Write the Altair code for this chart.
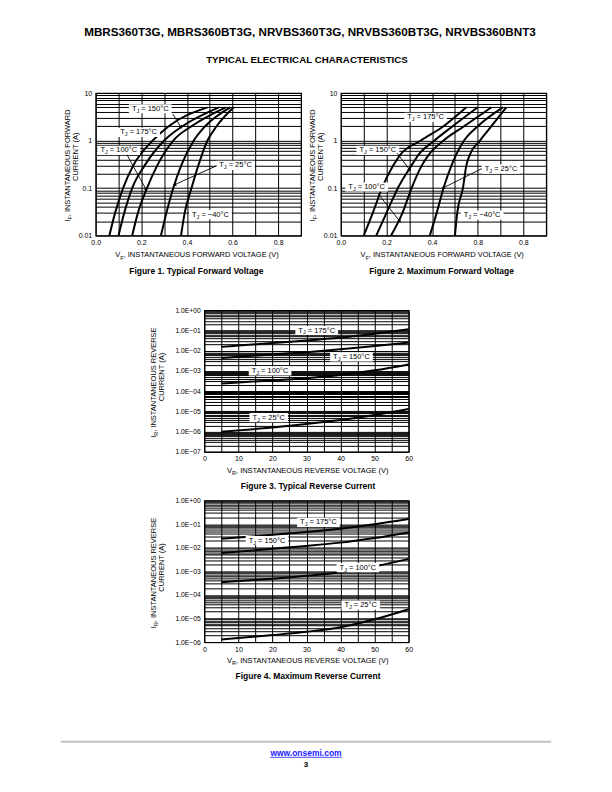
import math
import altair as alt
import pandas as pd

FONT = "Liberation Sans"

# ---------------- Figure 1 : typical forward voltage ----------------
fig1_current = [0.01, 0.03, 0.1, 0.3, 1.0, 2.0, 5.0]
fig1_vf_175 = [0.06, 0.085, 0.12, 0.165, 0.25, 0.32, 0.49]
fig1_vf_150 = [0.10, 0.125, 0.16, 0.215, 0.30, 0.38, 0.54]
fig1_vf_100 = [0.16, 0.185, 0.225, 0.27, 0.34, 0.42, 0.57]
fig1_vf_25 = [0.286, 0.31, 0.34, 0.375, 0.43, 0.48, 0.59]
fig1_vf_m40 = [0.374, 0.39, 0.42, 0.45, 0.49, 0.53, 0.605]
fig1_x_ticks = [0.0, 0.2, 0.4, 0.6, 0.8]
fig1_x_labels = ["0.0", "0.2", "0.4", "0.6", "0.8"]
fig1_y_ticks = [0.01, 0.1, 1, 10]
fig1_y_labels = ["0.01", "0.1", "1", "10"]
fig1_label_rest = ["= 150°C", "= 175°C", "= 100°C", "= 25°C", "= −40°C"]
fig1_label_v = [0.239, 0.188, 0.101, 0.613, 0.503]
fig1_label_i = [4.67, 1.49, 0.62, 0.30, 0.0275]
fig1_arrow_from_v = [0.338, 0.137, 0.53]
fig1_arrow_from_i = [3.63, 0.50, 0.295]
fig1_arrow_to_v = [0.374, 0.221, 0.345]
fig1_arrow_to_i = [1.9, 0.093, 0.117]

# ---------------- Figure 2 : maximum forward voltage ----------------
fig2_current = [0.01, 0.03, 0.1, 0.3, 0.5, 1.0, 2.0, 5.0]
fig2_vf_175 = [0.10, 0.14, 0.18, 0.23, 0.26, 0.35, 0.45, 0.55]
fig2_vf_150 = [0.155, 0.20, 0.25, 0.31, 0.34, 0.41, 0.49, 0.60]
fig2_vf_100 = [0.22, 0.27, 0.31, 0.355, 0.385, 0.45, 0.54, 0.66]
fig2_vf_25 = [0.39, 0.42, 0.45, 0.485, 0.505, 0.54, 0.60, 0.71]
fig2_vf_m40 = [0.50, 0.51, 0.535, 0.55, 0.565, 0.61, 0.66, 0.725]
fig2_x_ticks = [0.0, 0.2, 0.4, 0.6, 0.8]
fig2_x_labels = ["0.0", "0.2", "0.4", "0.8", "0.8"]
fig2_y_ticks = [0.01, 0.1, 1, 10]
fig2_y_labels = ["0.01", "0.1", "1", "10"]
fig2_label_rest = ["= 175°C", "= 150°C", "= 100°C", "= 25°C", "= −40°C"]
fig2_label_v = [0.371, 0.162, 0.113, 0.702, 0.619]
fig2_label_i = [3.06, 0.62, 0.105, 0.25, 0.027]
fig2_arrow_from_v = [0.247, 0.163, 0.618]
fig2_arrow_from_i = [0.54, 0.076, 0.256]
fig2_arrow_to_v = [0.302, 0.258, 0.447]
fig2_arrow_to_i = [0.24, 0.02, 0.1]

# ---------------- Figure 3 : typical reverse current ----------------
rev_voltage = [5, 10, 20, 30, 40, 50, 60]
fig3_ir_175 = [1.55e-2, 1.8e-2, 2.4e-2, 3.2e-2, 4.5e-2, 7.0e-2, 1.15e-1]
fig3_ir_150 = [4.4e-3, 5.0e-3, 6.5e-3, 8.5e-3, 1.17e-2, 1.7e-2, 2.5e-2]
fig3_ir_100 = [2.4e-4, 2.7e-4, 3.4e-4, 4.4e-4, 6.3e-4, 1.07e-3, 2.1e-3]
fig3_ir_25 = [9.8e-7, 1.15e-6, 1.6e-6, 2.35e-6, 3.7e-6, 6.6e-6, 1.3e-5]
fig3_y_ticks = [1e-7, 1e-6, 1e-5, 1e-4, 1e-3, 1e-2, 1e-1, 1]
fig3_y_labels = ["1.0E−07", "1.0E−06", "1.0E−05", "1.0E−04", "1.0E−03",
                 "1.0E−02", "1.0E−01", "1.0E+00"]
fig3_label_rest = ["= 175°C", "= 150°C", "= 100°C", "= 25°C"]
fig3_label_v = [33.0, 43.2, 19.3, 18.9]
fig3_label_i = [0.1, 5.0e-3, 1.0e-3, 4.9e-6]

# ---------------- Figure 4 : maximum reverse current ----------------
fig4_ir_175 = [2.4e-2, 2.75e-2, 3.55e-2, 4.7e-2, 6.5e-2, 1.0e-1, 1.66e-1]
fig4_ir_150 = [6.0e-3, 6.9e-3, 9.1e-3, 1.2e-2, 1.66e-2, 2.6e-2, 4.5e-2]
fig4_ir_100 = [3.5e-4, 3.9e-4, 4.9e-4, 6.5e-4, 9.3e-4, 1.62e-3, 3.4e-3]
fig4_ir_25 = [1.3e-6, 1.5e-6, 2.0e-6, 2.75e-6, 4.3e-6, 9.3e-6, 2.5e-5]
fig4_y_ticks = [1e-6, 1e-5, 1e-4, 1e-3, 1e-2, 1e-1, 1]
fig4_y_labels = ["1.0E−06", "1.0E−05", "1.0E−04", "1.0E−03",
                 "1.0E−02", "1.0E−01", "1.0E+00"]
fig4_label_rest = ["= 175°C", "= 150°C", "= 100°C", "= 25°C"]
fig4_label_v = [33.5, 18.4, 45.1, 45.9]
fig4_label_i = [0.12, 2.04e-2, 1.45e-3, 3.7e-5]

rev_x_ticks = [0, 10, 20, 30, 40, 50, 60]
rev_x_labels = ["0", "10", "20", "30", "40", "50", "60"]

HEADER = "MBRS360T3G, MBRS360BT3G, NRVBS360T3G, NRVBS360BT3G, NRVBS360BNT3"
SUBHEADER = "TYPICAL ELECTRICAL CHARACTERISTICS"

# ---------------- helpers ----------------
CW = {'A': .667, 'B': .667, 'C': .722, 'D': .722, 'E': .667, 'F': .611, 'G': .778,
      'H': .722, 'I': .278, 'J': .5, 'K': .667, 'L': .556, 'M': .833, 'N': .722,
      'O': .778, 'P': .667, 'Q': .778, 'R': .722, 'S': .667, 'T': .611, 'U': .722,
      'V': .667, 'W': .944, 'X': .667, 'Y': .667, 'Z': .611, ' ': .278, ',': .278,
      '(': .333, ')': .333, '.': .278, '=': .584, '°': .4, '−': .584}


def tw(s, size):
    return sum(CW.get(c, .556) for c in s) * size


one = pd.DataFrame({"k": [0]})


def ptext(text, x, y, size, weight="normal", align="left", angle=0, color="black"):
    kw = dict(text=text, fontSize=size, fontWeight=weight, align=align,
              baseline="middle", color=color, font=FONT)
    if angle:
        kw["angle"] = angle
    return alt.Chart(one).mark_text(**kw).encode(x=alt.value(x), y=alt.value(y))


def frame(x1, x2, y1, y2):
    # invisible rectangle fixing the layout bounds of a cell
    return alt.Chart(one).mark_rect(color="white", opacity=0).encode(
        x=alt.value(x1), x2=alt.value(x2), y=alt.value(y1), y2=alt.value(y2))


def spacer():
    return frame(0, 1, 0, 1).properties(width=1, height=1)


def sub_title_h(base, sub, rest, cx, y, size, sub_size):
    wb, ws, wr = tw(base, size), tw(sub, sub_size), tw(rest, size)
    x0 = cx - (wb + ws + wr) / 2
    return [ptext(base, x0, y, size), ptext(sub, x0 + wb, y + 0.3 * size, sub_size),
            ptext(rest, x0 + wb + ws, y, size)]


def sub_title_v(base, sub, rest, x, cy, size, sub_size):
    wb, ws, wr = tw(base, size), tw(sub, sub_size), tw(rest, size)
    y0 = cy + (wb + ws + wr) / 2
    return [ptext(base, x, y0, size, angle=270),
            ptext(sub, x + 0.3 * size, y0 - wb, sub_size, angle=270),
            ptext(rest, x, y0 - wb - ws, size, angle=270)]


def label_expr(values, labels, log):
    expr = "''"
    for v, l in zip(reversed(values), reversed(labels)):
        if log:
            cond = f"abs(datum.value/{v}-1)<1e-6"
        else:
            cond = f"abs(datum.value-({v}))<1e-6"
        expr = f"{cond} ? '{l}' : ({expr})"
    return expr


def log_grid(lo_exp, hi_exp):
    vals = []
    for e in range(lo_exp, hi_exp):
        for m in range(1, 10):
            vals.append(float(f"{m}e{e}"))
    vals.append(float(f"1e{hi_exp}"))
    return vals


def long_df(series_x, series_y, names):
    rows = []
    for xs, ys, n in zip(series_x, series_y, names):
        for a, b in zip(xs, ys):
            rows.append({"x": a, "y": b, "T": n})
    return pd.DataFrame(rows)


LS, LSS = 7.5, 5.5  # annotation font sizes


def panel(df, xdom, ydom, xgrid, xt, xl, yt, yl, w, h, ann, arrows, texts, ylab_size, box):
    px_x = w / (xdom[1] - xdom[0])
    px_dec = h / (math.log10(ydom[1]) - math.log10(ydom[0]))
    xs = alt.Scale(domain=xdom, nice=False, zero=False)
    ys = alt.Scale(type="log", domain=ydom, nice=False)
    lo, hi = round(math.log10(ydom[0])), round(math.log10(ydom[1]))
    common = dict(grid=True, gridColor="black", gridWidth=1, gridOpacity=1, ticks=False,
                  domain=False, labelFont=FONT, labelColor="black", labelOverlap=False,
                  labelFlush=False, title=None)
    xaxis = alt.Axis(values=xgrid, labelExpr=label_expr(xt, xl, False), labelFontSize=7,
                     labelPadding=3, **common)
    yaxis = alt.Axis(values=log_grid(lo, hi), labelExpr=label_expr(yt, yl, True),
                     labelFontSize=ylab_size, labelPadding=4, **common)

    def X(f):
        return alt.X(f, type="quantitative", scale=xs, axis=xaxis)

    def Y(f):
        return alt.Y(f, type="quantitative", scale=ys, axis=yaxis)

    L, R, T, B = box
    layers = [frame(-L, w + R, -T, h + B),
              alt.Chart(df).mark_line(color="black", strokeWidth=2, interpolate="monotone")
              .encode(x=X("x"), y=Y("y"), detail="T:N")]

    rest, av, ai = ann
    rows = []
    for r, x, y in zip(rest, av, ai):
        wd = tw("T", LS) + tw("J", LSS) + tw(" " + r, LS) + 6
        hw = wd / 2 / px_x
        f = 10 ** (4.6 / px_dec)
        rows.append(dict(x=x, y=y, x1=x - hw, x2=x + hw, y1=y / f, y2=y * f, rest=r))
    adf = pd.DataFrame(rows)
    layers.append(alt.Chart(adf).mark_rect(color="white", opacity=1)
                  .encode(x=X("x1"), x2="x2", y=Y("y1"), y2="y2"))
    d_t = 3
    d_j = d_t + tw("T", LS)
    d_r = d_j + tw("J", LSS) + tw(" ", LS)
    base = dict(font=FONT, color="black", align="left", baseline="middle")
    layers.append(alt.Chart(adf).mark_text(text="T", fontSize=LS, dx=d_t, **base)
                  .encode(x=X("x1"), y=Y("y")))
    layers.append(alt.Chart(adf).mark_text(text="J", fontSize=LSS, dx=d_j, dy=2, **base)
                  .encode(x=X("x1"), y=Y("y")))
    layers.append(alt.Chart(adf).mark_text(fontSize=LS, dx=d_r, **base)
                  .encode(x=X("x1"), y=Y("y"), text="rest:N"))

    if arrows is not None:
        fv, fi, tv, ti = arrows
        rows = []
        for a, b, c, d in zip(fv, fi, tv, ti):
            dxp = (c - a) * px_x
            dyp = -(math.log10(d) - math.log10(b)) * px_dec
            ang = math.degrees(math.atan2(dxp, -dyp)) % 360
            rows.append(dict(x=a, y=b, x2=c, y2=d, ang=ang))
        ardf = pd.DataFrame(rows)
        layers.append(alt.Chart(ardf).mark_rule(color="black", strokeWidth=0.9)
                      .encode(x=X("x"), y=Y("y"), x2="x2", y2="y2"))
        layers.append(alt.Chart(ardf).mark_point(shape="triangle-up", filled=True,
                                                 color="black", size=16, opacity=1)
                      .encode(x=X("x2"), y=Y("y2"), angle=alt.Angle("ang:Q", scale=None)))
    layers.extend(texts)
    return alt.layer(*layers).properties(
        width=w, height=h, view=alt.ViewBackground(stroke="black", strokeWidth=1.2))


NAMES5 = ["175", "150", "100", "25", "-40"]
NAMES4 = ["175", "150", "100", "25"]
FW, FH = 206, 143
RW, RH = 205, 142
TS, TSS = 7.5, 5.5   # axis title font sizes
CAP = 8.5

fig1_df = long_df([fig1_vf_175, fig1_vf_150, fig1_vf_100, fig1_vf_25, fig1_vf_m40],
                  [fig1_current] * 5, NAMES5)
fig2_df = long_df([fig2_vf_175, fig2_vf_150, fig2_vf_100, fig2_vf_25, fig2_vf_m40],
                  [fig2_current] * 5, NAMES5)
fig3_df = long_df([rev_voltage] * 4, [fig3_ir_175, fig3_ir_150, fig3_ir_100, fig3_ir_25], NAMES4)
fig4_df = long_df([rev_voltage] * 4, [fig4_ir_175, fig4_ir_150, fig4_ir_100, fig4_ir_25], NAMES4)

fwd_grid = [round(0.1 * i, 1) for i in range(10)]
rev_grid = list(range(0, 61, 5))


def fwd_texts(caption, y1x, y2x):
    t = sub_title_h("V", "F", ", INSTANTANEOUS FORWARD VOLTAGE (V)", 103, 163, TS, TSS)
    t += sub_title_v("I", "F", ", INSTANTANEOUS FORWARD", y1x, 72, TS, TSS)
    t.append(ptext("CURRENT (A)", y2x, 64, TS, align="center", angle=270))
    t.append(ptext(caption, 101, 179, CAP, weight="bold", align="center"))
    return t


def rev_texts(caption):
    t = sub_title_h("V", "R", ", INSTANTANEOUS REVERSE VOLTAGE (V)", 105, 161, TS, TSS)
    t += sub_title_v("I", "R", ", INSTANTANEOUS REVERSE", -51, 72, TS, TSS)
    t.append(ptext("CURRENT (A)", -42, 67, TS, align="center", angle=270))
    t.append(ptext(caption, 104, 176, CAP, weight="bold", align="center"))
    return t


fig1 = panel(fig1_df, [0, 0.9], [0.01, 10], fwd_grid, fig1_x_ticks, fig1_x_labels,
             fig1_y_ticks, fig1_y_labels, FW, FH,
             (fig1_label_rest, fig1_label_v, fig1_label_i),
             (fig1_arrow_from_v, fig1_arrow_from_i, fig1_arrow_to_v, fig1_arrow_to_i),
             fwd_texts("Figure 1. Typical Forward Voltage", -28, -20), 7,
             (84, 2, 5, 68))
fig2 = panel(fig2_df, [0, 0.9], [0.01, 10], fwd_grid, fig2_x_ticks, fig2_x_labels,
             fig2_y_ticks, fig2_y_labels, FW, FH,
             (fig2_label_rest, fig2_label_v, fig2_label_i),
             (fig2_arrow_from_v, fig2_arrow_from_i, fig2_arrow_to_v, fig2_arrow_to_i),
             fwd_texts("Figure 2. Maximum Forward Voltage", -28, -20), 7,
             (36, 20, 5, 68))
fig3 = panel(fig3_df, [0, 60], [1e-7, 1], rev_grid, rev_x_ticks, rev_x_labels,
             fig3_y_ticks, fig3_y_labels, RW, RH,
             (fig3_label_rest, fig3_label_v, fig3_label_i), None,
             rev_texts("Figure 3. Typical Reverse Current"), 6.8,
             (193, 20, 5, 42))
fig4 = panel(fig4_df, [0, 60], [1e-6, 1], rev_grid, rev_x_ticks, rev_x_labels,
             fig4_y_ticks, fig4_y_labels, RW, RH,
             (fig4_label_rest, fig4_label_v, fig4_label_i), None,
             rev_texts("Figure 4. Maximum Reverse Current"), 6.8,
             (193, 20, 5, 39))

header = alt.layer(
    frame(0, 596, 0, 76),
    ptext(HEADER, 302, 22, 11.7, weight="bold", align="center"),
    ptext(SUBHEADER, 299, 50, 9.8, weight="bold", align="center"),
).properties(width=596, height=76)

footer = alt.layer(
    frame(0, 596, 0, 100),
    alt.Chart(one).mark_rule(color="#c0c0c0", strokeWidth=2).encode(
        x=alt.value(52), x2=alt.value(544), y=alt.value(59)),
    ptext("www.onsemi.com", 298, 70, 8.5, weight="bold", align="center", color="#1a1aff"),
    alt.Chart(one).mark_rule(color="#1a1aff", strokeWidth=0.8).encode(
        x=alt.value(262), x2=alt.value(334), y=alt.value(74.5)),
    ptext("3", 298, 82, 8, weight="bold", align="center"),
).properties(width=596, height=100)

row1 = alt.hconcat(spacer(), fig1, fig2, spacing=0)
row3 = alt.hconcat(spacer(), fig3, spacing=0)
row5 = alt.hconcat(spacer(), fig4, spacing=0)

chart = alt.vconcat(header, row1, row3, row5, footer, spacing=0).properties(
    padding=0).configure(font=FONT, view=alt.ViewConfig(stroke="transparent"))

chart.save("out.html", embed_options={"renderer": "svg", "actions": False})
